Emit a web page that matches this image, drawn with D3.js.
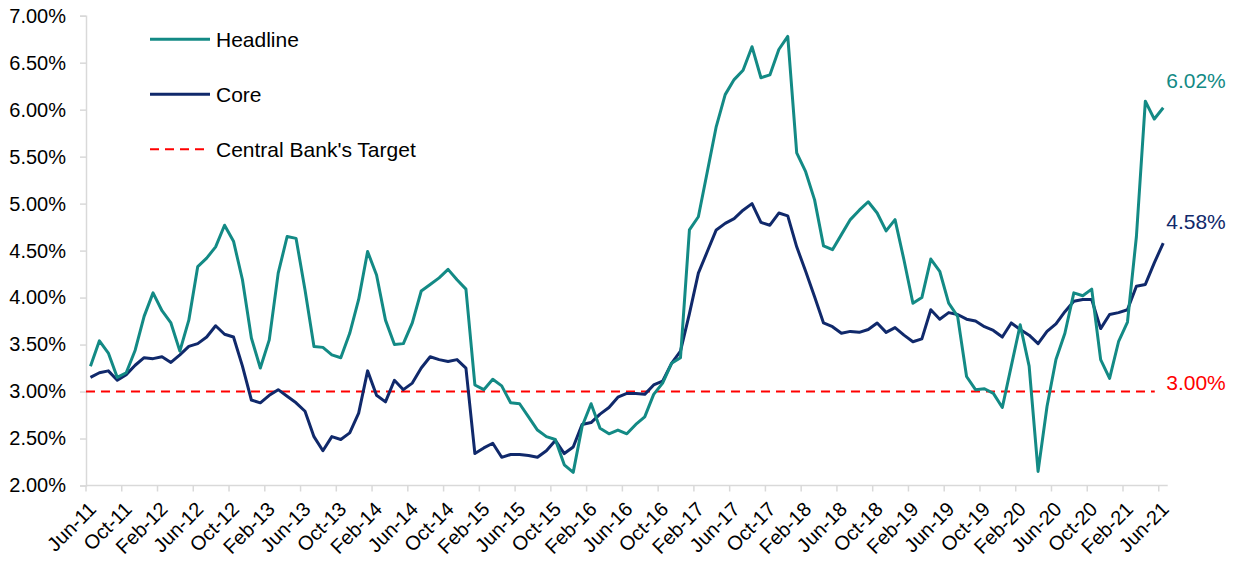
<!DOCTYPE html>
<html>
<head>
    <meta charset="utf-8">
    <title>inflation</title>
    <script src="https://d3js.org/d3.v7.min.js"></script>
    <style>
        body { margin: 0; background: #fff; }
        text { font-family: "Liberation Sans", Arial, sans-serif; }
    </style>
</head>
<body>
    <svg width="1241" height="562" id="mainsvg"></svg>
    <script>
        // monthly categories Jun-11 .. Jun-21
        const months = d3.timeMonth.range(new Date(2011, 5, 1), new Date(2021, 6, 1));
        const categories = months.map(d3.timeFormat('%b-%y'));

        const tickLabels = ['Jun-11', 'Oct-11', 'Feb-12', 'Jun-12', 'Oct-12', 'Feb-13', 'Jun-13', 'Oct-13',
            'Feb-14', 'Jun-14', 'Oct-14', 'Feb-15', 'Jun-15', 'Oct-15', 'Feb-16', 'Jun-16', 'Oct-16',
            'Feb-17', 'Jun-17', 'Oct-17', 'Feb-18', 'Jun-18', 'Oct-18', 'Feb-19', 'Jun-19', 'Oct-19',
            'Feb-20', 'Jun-20', 'Oct-20', 'Feb-21', 'Jun-21'];

        const yTicks = [2, 2.5, 3, 3.5, 4, 4.5, 5, 5.5, 6, 6.5, 7];

        const headline = [
            3.27, 3.54, 3.41, 3.15, 3.20, 3.44, 3.80, 4.05, 3.86, 3.73, 3.43, 3.76,
            4.33, 4.42, 4.54, 4.77, 4.60, 4.19, 3.57, 3.25, 3.55, 4.26, 4.65, 4.63,
            4.08, 3.48, 3.47, 3.39, 3.36, 3.62, 3.98, 4.49, 4.24, 3.76, 3.50, 3.51,
            3.73, 4.07, 4.14, 4.21, 4.30, 4.19, 4.09, 3.07, 3.02, 3.13, 3.06, 2.88,
            2.87, 2.73, 2.59, 2.52, 2.49, 2.22, 2.14, 2.63, 2.87, 2.61, 2.55, 2.59,
            2.55, 2.65, 2.73, 2.97, 3.09, 3.30, 3.36, 4.72, 4.86, 5.34, 5.82, 6.16,
            6.32, 6.42, 6.67, 6.34, 6.37, 6.64, 6.78, 5.54, 5.34, 5.04, 4.55, 4.51,
            4.67, 4.83, 4.93, 5.02, 4.90, 4.71, 4.83, 4.40, 3.94, 4.00, 4.41, 4.28,
            3.94, 3.80, 3.16, 3.02, 3.03, 2.98, 2.83, 3.27, 3.71, 3.27, 2.15, 2.84,
            3.34, 3.62, 4.05, 4.02, 4.09, 3.34, 3.14, 3.53, 3.74, 4.65, 6.09, 5.90,
            6.02];

        const core = [
            3.15, 3.20, 3.22, 3.12, 3.18, 3.28, 3.36, 3.35, 3.37, 3.31, 3.39, 3.48,
            3.51, 3.58, 3.70, 3.61, 3.58, 3.27, 2.91, 2.88, 2.96, 3.02, 2.95, 2.88,
            2.79, 2.52, 2.37, 2.52, 2.49, 2.56, 2.77, 3.22, 2.96, 2.89, 3.12, 3.02,
            3.09, 3.25, 3.37, 3.34, 3.32, 3.34, 3.25, 2.34, 2.40, 2.45, 2.30, 2.33,
            2.33, 2.32, 2.30, 2.37, 2.48, 2.34, 2.41, 2.65, 2.67, 2.76, 2.83, 2.94,
            2.98, 2.98, 2.97, 3.07, 3.11, 3.30, 3.43, 3.83, 4.26, 4.49, 4.72, 4.79,
            4.84, 4.93, 5.00, 4.80, 4.77, 4.90, 4.87, 4.54, 4.28, 4.01, 3.73, 3.69,
            3.62, 3.64, 3.63, 3.66, 3.73, 3.63, 3.68, 3.60, 3.53, 3.56, 3.87, 3.77,
            3.84, 3.82, 3.77, 3.75, 3.69, 3.65, 3.58, 3.73, 3.66, 3.60, 3.51, 3.64,
            3.72, 3.85, 3.96, 3.98, 3.98, 3.67, 3.82, 3.84, 3.87, 4.12, 4.14, 4.37,
            4.58];

        const target = 3.0;

        const teal = '#138a85', navy = '#10296b', red = '#ff0000', axisGrey = '#d9d9d9';

        const svg = d3.select('#mainsvg');
        svg.append('rect').attr('width', 1241).attr('height', 562).attr('fill', '#fff');

        const x = d3.scaleBand().domain(categories).range([86, 1167.7]);
        const cx = d => x(d) + x.bandwidth() / 2;
        const y = d3.scaleLinear().domain([2, 7]).range([485.5, 15.7]);

        // y axis
        const yAxis = svg.append('g')
            .attr('transform', 'translate(86,0)')
            .call(d3.axisLeft(y).tickValues(yTicks).tickSize(6).tickPadding(14)
                .tickFormat(d => d.toFixed(2) + '%'));
        yAxis.select('.domain').attr('stroke', axisGrey).attr('stroke-width', 1.5);
        yAxis.selectAll('.tick line').attr('stroke', axisGrey).attr('stroke-width', 1.5);
        yAxis.selectAll('.tick text').attr('font-size', 20).attr('fill', '#000')
            .style('font-family', '"Liberation Sans", Arial, sans-serif');

        // x axis (ticks between categories)
        const xg = svg.append('g');
        xg.append('line')
            .attr('x1', 86).attr('x2', 1167.7)
            .attr('y1', y(2)).attr('y2', y(2))
            .attr('stroke', axisGrey).attr('stroke-width', 1.5);
        xg.selectAll('line.tk').data(tickLabels).enter().append('line')
            .attr('class', 'tk')
            .attr('x1', d => x(d)).attr('x2', d => x(d))
            .attr('y1', y(2)).attr('y2', y(2) + 6)
            .attr('stroke', axisGrey).attr('stroke-width', 1.5);
        xg.selectAll('text').data(tickLabels).enter().append('text')
            .attr('transform', d => `translate(${cx(d) + 2},${y(2) + 20}) rotate(-45)`)
            .attr('text-anchor', 'end')
            .attr('dy', '0.35em')
            .attr('font-size', 20)
            .attr('fill', '#000')
            .text(d => d);

        // target line
        svg.append('line')
            .attr('x1', 86).attr('x2', x(categories[categories.length - 1]) - 4)
            .attr('y1', y(target)).attr('y2', y(target))
            .attr('stroke', red).attr('stroke-width', 2)
            .attr('stroke-dasharray', '9,6');

        const line = d3.line()
            .x((d, i) => cx(categories[i]))
            .y(d => y(d));

        svg.append('path').datum(core)
            .attr('d', line).attr('fill', 'none')
            .attr('stroke', navy).attr('stroke-width', 3)
            .attr('stroke-linejoin', 'round');

        svg.append('path').datum(headline)
            .attr('d', line).attr('fill', 'none')
            .attr('stroke', teal).attr('stroke-width', 3)
            .attr('stroke-linejoin', 'round');

        // end labels
        const lastX = cx(categories[categories.length - 1]);
        const endLabels = [
            { text: headline[headline.length - 1].toFixed(2) + '%', yv: 6.31, color: teal },
            { text: core[core.length - 1].toFixed(2) + '%', yv: 4.81, color: navy },
            { text: target.toFixed(2) + '%', yv: 3.09, color: red }
        ];
        svg.selectAll('text.end').data(endLabels).enter().append('text')
            .attr('class', 'end')
            .attr('x', lastX + 3)
            .attr('y', d => y(d.yv))
            .attr('dy', '0.35em')
            .attr('font-size', 21)
            .attr('fill', d => d.color)
            .text(d => d.text);

        // legend
        const legend = [
            { name: 'Headline', color: teal, dash: null },
            { name: 'Core', color: navy, dash: null },
            { name: "Central Bank's Target", color: red, dash: '9,6' }
        ];
        const lg = svg.selectAll('g.legend').data(legend).enter().append('g')
            .attr('class', 'legend')
            .attr('transform', (d, i) => `translate(150,${39.3 + i * 55})`);
        lg.append('line')
            .attr('x1', 0).attr('x2', 60)
            .attr('stroke', d => d.color)
            .attr('stroke-width', d => d.dash ? 2 : 3)
            .attr('stroke-dasharray', d => d.dash);
        lg.append('text')
            .attr('x', 66).attr('dy', '0.35em')
            .attr('font-size', 21)
            .attr('fill', '#000')
            .text(d => d.name);
    </script>
</body>
</html>
